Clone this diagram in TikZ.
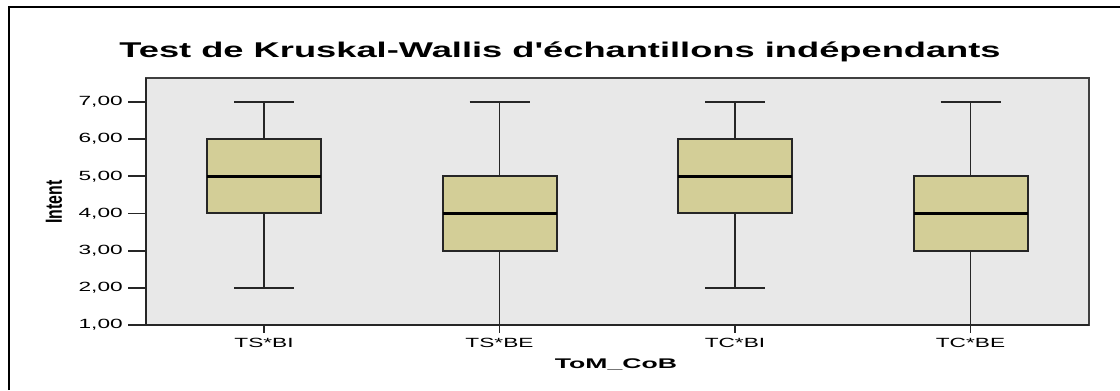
\documentclass[tikz,border=0pt]{standalone}
\usepackage{fontspec}
\setmainfont{Liberation Sans}[Ligatures=TeXOff]
\usetikzlibrary{positioning}
\definecolor{boxfill}{RGB}{211,206,151}
\definecolor{plotbg}{RGB}{232,232,232}
\tikzset{
 frame/.style
  = {draw=black, line width=2.2pt},
 area/.style
  = {draw=black!75, fill=plotbg, line width=1.5pt},
 box/.style
  = {draw=black!85, fill=boxfill, line width=1.5pt},
 whisk/.style
  = {draw=black!85, line width=1.4pt},
 med/.style
  = {draw=black, line width=2.6pt},
 tick/.style
  = {draw=black!85, line width=1.3pt},
 ticklab/.style
  = {font=\fontsize{10}{12}\selectfont, inner sep=0pt},
}
\newcommand{\wide}[2]{\scalebox{#1}[1]{#2}}
\begin{document}
\begin{tikzpicture}[x=0.75pt, y=-0.75pt]
\useasboundingbox (0,0) rectangle (1120,390);

% Outer frame
\draw[frame] (9,390) -- (9,7) -- (1120,7);

% Title
\node[inner sep=0pt, anchor=base] (title) at (560,57)
  {\wide{1.7}{\fontsize{16}{20}\selectfont\bfseries Test de Kruskal-Wallis d'échantillons indépendants}};

% Plot area
\draw[area] (146,78) rectangle (1089,325);
\draw[tick] (146,78) -- (146,325) -- (1089,325);

% y axis ticks
\foreach \v in {1,...,7} {
  \coordinate (y\v) at (146,{325-(\v-1)*37.17});
  \draw[tick] (y\v) -- ++(-18,0);
  \node[ticklab, anchor=east] at (123,{325-(\v-1)*37.17}) {\wide{1.7}{\v,00}};
}

% y axis title
\node[rotate=90, inner sep=0pt] (ylab) at (54,202)
  {\wide{0.68}{\fontsize{17.5}{20}\selectfont\bfseries Intent}};

% Boxes: x / low / q1 / median / q3 / high / label
\foreach \x/\lo/\qa/\md/\qb/\hi/\lab in
  {264/2/4/5/6/7/TS*BI, 499.5/1/3/4/5/7/TS*BE,
   735/2/4/5/6/7/TC*BI, 970.5/1/3/4/5/7/TC*BE} {
  \draw[whisk] (\x,{325-(\lo-1)*37.17}) -- (\x,{325-(\hi-1)*37.17});
  \draw[whisk] (\x-30,{325-(\hi-1)*37.17}) -- (\x+30,{325-(\hi-1)*37.17});
  \draw[whisk] (\x-30,{325-(\lo-1)*37.17}) -- (\x+30,{325-(\lo-1)*37.17});
  \draw[box] (\x-57,{325-(\qa-1)*37.17}) rectangle (\x+57,{325-(\qb-1)*37.17});
  \draw[med] (\x-57,{325-(\md-1)*37.17}) -- (\x+57,{325-(\md-1)*37.17});
  \draw[tick] (\x,325) -- (\x,333);
  \node[ticklab, anchor=base] at (\x,347) {\wide{1.7}{\lab}};
}

% x axis title
\node[inner sep=0pt, anchor=base] (xlab) at (616,368)
  {\wide{1.9}{\fontsize{10.5}{12}\selectfont\bfseries ToM\_CoB}};

\end{tikzpicture}
\end{document}
